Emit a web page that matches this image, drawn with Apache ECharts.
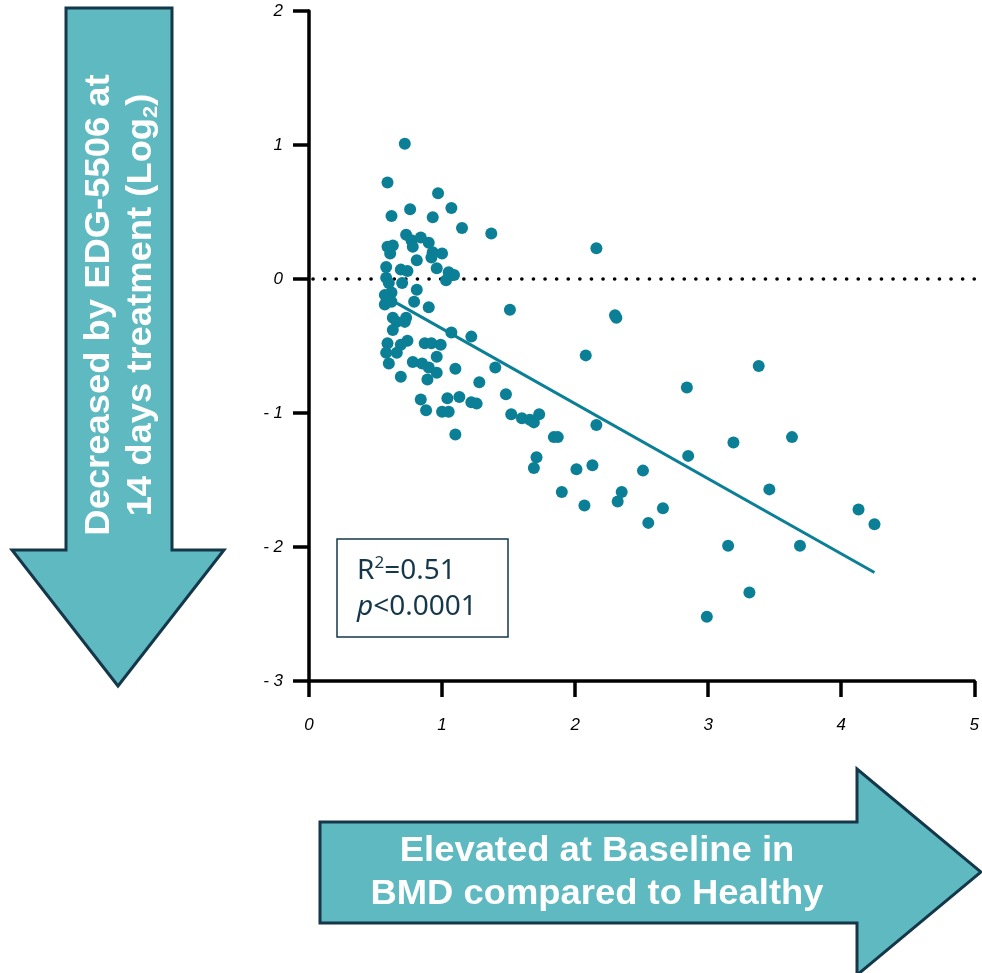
<!DOCTYPE html>
<html>
<head>
<meta charset="utf-8">
<script src="https://cdn.jsdelivr.net/npm/echarts@6/dist/echarts.min.js"></script>
<style>
  html, body { margin: 0; padding: 0; background: #fff; }
  #main { width: 982px; height: 973px; }
</style>
</head>
<body>
<div id="main"></div>
<script>
// baseline elevation vs healthy (x) and log2 change after 14 days (y)
var baselineX = [0.72, 0.59, 0.97, 0.76, 1.07, 0.62, 0.93, 1.15, 1.37, 0.73, 0.77, 0.84, 0.90, 0.59, 0.63, 0.61, 0.78, 0.93, 1.00, 0.81,
  0.92, 0.58, 0.69, 0.74, 0.96, 1.05, 1.09, 1.03, 0.58, 0.60, 0.70, 0.62, 0.81, 0.57, 0.62, 0.57, 0.79, 0.90, 0.63, 0.73,
  0.66, 0.72, 0.63, 1.07, 1.22, 1.51, 0.74, 0.59, 0.69, 0.87, 0.92, 0.99, 0.58, 0.66, 0.60, 0.96, 0.78, 0.85, 0.90, 0.96,
  0.89, 0.69, 1.10, 1.40, 1.28, 1.48, 0.84, 0.88, 1.04, 1.13, 1.22, 1.26, 1.00, 1.05, 1.10, 1.52, 1.60, 1.66, 1.69, 1.73,
  1.84, 1.87, 2.16, 1.71, 1.69, 2.01, 2.13, 2.51, 1.90, 2.07, 2.35, 2.32, 2.66, 2.55, 2.16, 2.30, 2.31, 2.08, 2.84, 3.38,
  3.19, 3.63, 2.85, 3.46, 4.13, 4.25, 3.15, 3.69, 3.31, 2.99];
var changeY = [1.01, 0.72, 0.64, 0.52, 0.53, 0.47, 0.46, 0.38, 0.34, 0.33, 0.29, 0.31, 0.27, 0.24, 0.25, 0.19, 0.24, 0.20, 0.19, 0.14,
  0.16, 0.09, 0.07, 0.06, 0.08, 0.05, 0.03, -0.01, 0.01, -0.03, -0.03, -0.10, -0.08, -0.12, -0.17, -0.19, -0.17, -0.21, -0.29, -0.29,
  -0.32, -0.32, -0.38, -0.40, -0.43, -0.23, -0.46, -0.48, -0.49, -0.48, -0.48, -0.49, -0.55, -0.55, -0.63, -0.58, -0.62, -0.63, -0.66, -0.70,
  -0.75, -0.73, -0.67, -0.66, -0.77, -0.86, -0.90, -0.98, -0.89, -0.88, -0.92, -0.93, -0.99, -0.99, -1.16, -1.01, -1.04, -1.05, -1.07, -1.01,
  -1.18, -1.18, -1.09, -1.33, -1.41, -1.42, -1.39, -1.43, -1.59, -1.69, -1.59, -1.66, -1.71, -1.82, 0.23, -0.27, -0.29, -0.57, -0.81, -0.65,
  -1.22, -1.18, -1.32, -1.57, -1.72, -1.83, -1.99, -1.99, -2.34, -2.52];

// linear fit end points
var fitX = [0.66, 4.25];
var fitY = [-0.18, -2.19];

// dotted reference at zero
var refX = [0, 5];
var refY = [0, 0];

var teal = '#0b7f95';
var navy = '#15374a';
var arrowFill = '#5eb9c0';

var chart = echarts.init(document.getElementById('main'));

var option = {
  backgroundColor: '#fff',
  animation: false,
  grid: { left: 309, top: 11, width: 670, height: 670, containLabel: false },
  xAxis: {
    type: 'value', min: 0, max: 5, interval: 1,
    axisLine: { show: true, onZero: false, lineStyle: { color: '#000', width: 3.5 } },
    axisTick: { show: true, length: 16, lineStyle: { color: '#000', width: 3.5 } },
    axisLabel: { margin: 36, color: '#000', fontSize: 17, fontStyle: 'italic', fontFamily: 'Liberation Sans' },
    splitLine: { show: false }
  },
  yAxis: {
    type: 'value', min: -3, max: 2, interval: 1,
    axisLine: { show: true, onZero: false, lineStyle: { color: '#000', width: 3.5 } },
    axisTick: { show: true, length: 16, lineStyle: { color: '#000', width: 3.5 } },
    axisLabel: {
      margin: 26, color: '#000', fontSize: 17, fontStyle: 'italic', fontFamily: 'Liberation Sans',
      formatter: function (v) { return v < 0 ? '- ' + Math.abs(v) : String(v); }
    },
    splitLine: { show: false }
  },
  series: [
    {
      type: 'line',
      data: refX.map(function (x, i) { return [x, refY[i]]; }),
      symbol: 'none',
      z: 1,
      lineStyle: { color: '#000', width: 3.6, type: [0.1, 11.5], cap: 'round', dashOffset: -4 }
    },
    {
      type: 'scatter',
      data: baselineX.map(function (x, i) { return [x, changeY[i]]; }),
      symbolSize: 12,
      itemStyle: { color: teal, opacity: 1 },
      z: 3
    },
    {
      type: 'line',
      data: fitX.map(function (x, i) { return [x, fitY[i]]; }),
      symbol: 'none',
      z: 4,
      lineStyle: { color: teal, width: 3 }
    }
  ],
  graphic: [
    {
      type: 'polygon',
      shape: { points: [[66, 8], [172, 8], [172, 550], [224, 550], [118, 686], [12, 550], [66, 550]] },
      style: { fill: arrowFill, stroke: navy, lineWidth: 3 }
    },
    {
      type: 'text',
      x: 120, y: 305,
      rotation: Math.PI / 2,
      scaleX: 1.04,
      style: {
        text: 'Decreased by EDG-5506 at\n14 days treatment (Log{sub|2})',
        fill: '#fff',
        fontSize: 35, fontWeight: 'bold', fontFamily: 'Liberation Sans',
        lineHeight: 42,
        align: 'center', verticalAlign: 'middle',
        rich: {
          sub: { fontSize: 21, fontWeight: 'bold', fontFamily: 'Liberation Sans', fill: '#fff', lineHeight: 16, verticalAlign: 'bottom' }
        }
      }
    },
    {
      type: 'polygon',
      shape: { points: [[320, 822], [857, 822], [857, 769], [981, 872], [857, 975], [857, 923], [320, 923]] },
      style: { fill: arrowFill, stroke: navy, lineWidth: 3 }
    },
    {
      type: 'text',
      x: 597, y: 873,
      scaleX: 1.04,
      style: {
        text: 'Elevated at Baseline in\nBMD compared to Healthy',
        fill: '#fff',
        fontSize: 35, fontWeight: 'bold', fontFamily: 'Liberation Sans',
        lineHeight: 43,
        align: 'center', verticalAlign: 'middle'
      }
    },
    {
      type: 'rect',
      shape: { x: 337, y: 539, width: 171, height: 98 },
      style: { fill: '#fff', stroke: navy, lineWidth: 1.5 },
      z: 10
    },
    {
      type: 'text',
      x: 357, y: 571,
      z: 11,
      style: {
        text: 'R{sup|2}=0.51',
        fill: navy,
        fontSize: 28, fontFamily: 'Noto Sans',
        lineHeight: 32,
        align: 'left', verticalAlign: 'middle',
        rich: {
          sup: { fontSize: 17, fontFamily: 'Noto Sans', fill: navy, lineHeight: 17, verticalAlign: 'top' }
        }
      }
    },
    {
      type: 'text',
      x: 357, y: 607,
      z: 11,
      style: {
        text: '{it|p}<0.0001',
        fill: navy,
        fontSize: 28, fontFamily: 'Noto Sans',
        lineHeight: 32,
        align: 'left', verticalAlign: 'middle',
        rich: {
          it: { fontSize: 28, fontStyle: 'italic', fontFamily: 'Noto Sans', fill: navy, lineHeight: 32 }
        }
      }
    }
  ]
};

chart.setOption(option);
</script>
</body>
</html>
